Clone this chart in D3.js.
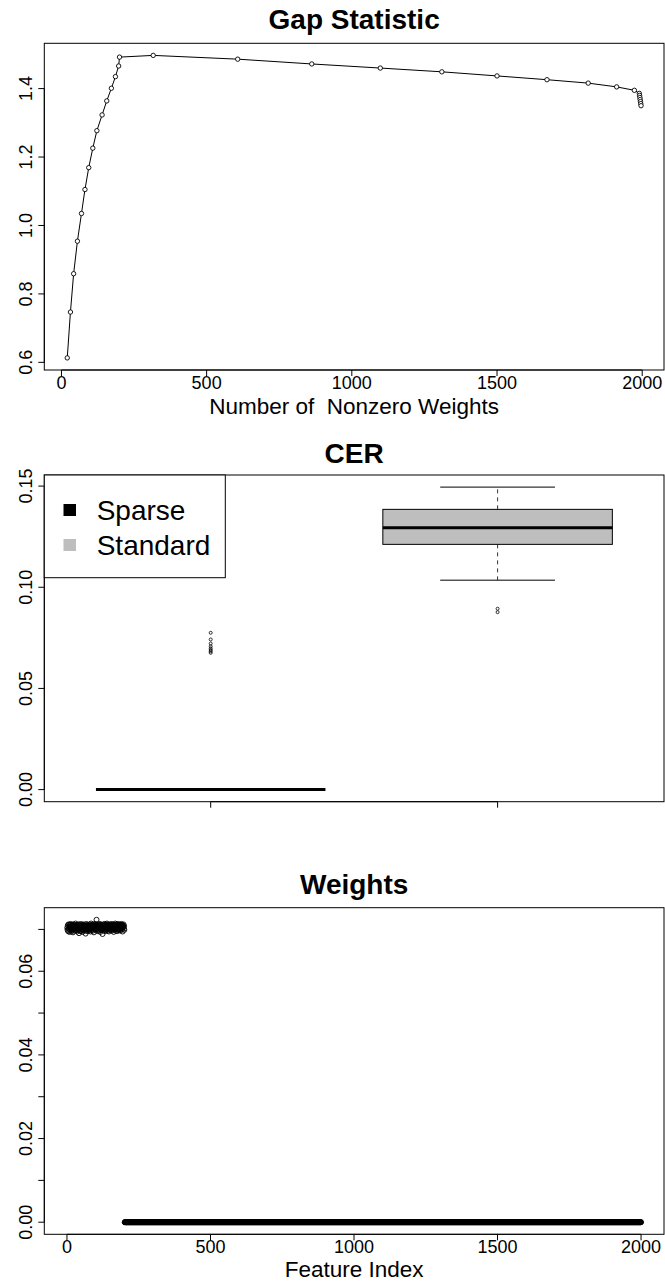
<!DOCTYPE html>
<html>
<head>
<meta charset="utf-8">
<script src="https://cdn.jsdelivr.net/npm/d3@7"></script>
<style>
  html, body { margin: 0; padding: 0; background: #fff; }
  svg { display: block; font-family: "Liberation Sans", Arial, Helvetica, sans-serif; }
</style>
</head>
<body>
<script>
// ---------------- DATA ----------------
// Panel 1: Gap statistic vs number of nonzero weights
const gapNonzero = [20, 31, 42, 55, 69, 81, 94, 108, 122, 140, 156, 172, 186, 197, 200,
  316, 607, 862, 1098, 1310, 1500, 1672, 1814, 1912, 1973,
  1990, 1991, 1992, 1993, 1994, 1995, 1996];
const gapValues = [0.613, 0.747, 0.859, 0.954, 1.035, 1.105, 1.169, 1.226, 1.277, 1.323,
  1.364, 1.401, 1.435, 1.466, 1.492, 1.497, 1.486, 1.472, 1.460, 1.449, 1.437, 1.426,
  1.416, 1.405, 1.395, 1.386, 1.380, 1.374, 1.368, 1.362, 1.356, 1.350];
const gapXTicks = [0, 500, 1000, 1500, 2000];
const gapYTicks = [0.6, 0.8, 1.0, 1.2, 1.4];

// Panel 2: CER boxplots
const cerGroups = ["Sparse", "Standard"];
const cerLowerWhisker = [0, 0.1035];
const cerQ1 = [0, 0.1212];
const cerMedian = [0, 0.1294];
const cerQ3 = [0, 0.1385];
const cerUpperWhisker = [0, 0.1495];
const cerOutliers = [
  [0.0775, 0.0742, 0.0722, 0.0708, 0.0698, 0.0690, 0.0683, 0.0676],
  [0.0894, 0.0877]
];
const cerColors = ["#000000", "#bebebe"];
const cerYTicks = [0.00, 0.05, 0.10, 0.15];

// Panel 3: feature weights (features 1..200 informative, 201..2000 zero)
const weightsInformative = [
  0.0704, 0.0699, 0.0710, 0.0696, 0.0707, 0.0712, 0.0701, 0.0694, 0.0706, 0.0711,
  0.0703, 0.0698, 0.0713, 0.0707, 0.0695, 0.0704, 0.0709, 0.0700, 0.0711, 0.0702,
  0.0693, 0.0706, 0.0712, 0.0701, 0.0708, 0.0697, 0.0710, 0.0704, 0.0699, 0.0714,
  0.0702, 0.0709, 0.0698, 0.0706, 0.0711, 0.0695, 0.0704, 0.0708, 0.0701, 0.0712,
  0.0699, 0.0691, 0.0709, 0.0703, 0.0710, 0.0697, 0.0706, 0.0713, 0.0696, 0.0704,
  0.0708, 0.0701, 0.0711, 0.0694, 0.0706, 0.0702, 0.0712, 0.0699, 0.0709, 0.0704,
  0.0697, 0.0710, 0.0702, 0.0708, 0.0690, 0.0706, 0.0713, 0.0700, 0.0709, 0.0696,
  0.0704, 0.0711, 0.0699, 0.0708, 0.0702, 0.0710, 0.0697, 0.0706, 0.0712, 0.0700,
  0.0709, 0.0695, 0.0704, 0.0714, 0.0702, 0.0708, 0.0699, 0.0711, 0.0706, 0.0697,
  0.0709, 0.0702, 0.0712, 0.0693, 0.0706, 0.0710, 0.0700, 0.0708, 0.0713, 0.0704,
  0.0699, 0.0711, 0.0723, 0.0702, 0.0709, 0.0696, 0.0706, 0.0712, 0.0700, 0.0708,
  0.0704, 0.0697, 0.0710, 0.0702, 0.0713, 0.0694, 0.0708, 0.0700, 0.0711, 0.0704,
  0.0699, 0.0709, 0.0702, 0.0689, 0.0706, 0.0712, 0.0697, 0.0708, 0.0710, 0.0700,
  0.0704, 0.0713, 0.0696, 0.0709, 0.0702, 0.0711, 0.0699, 0.0706, 0.0714, 0.0700,
  0.0708, 0.0697, 0.0710, 0.0704, 0.0712, 0.0695, 0.0706, 0.0702, 0.0709, 0.0699,
  0.0711, 0.0704, 0.0700, 0.0713, 0.0708, 0.0697, 0.0710, 0.0702, 0.0706, 0.0712,
  0.0699, 0.0709, 0.0694, 0.0704, 0.0711, 0.0700, 0.0708, 0.0714, 0.0702, 0.0710,
  0.0697, 0.0706, 0.0712, 0.0704, 0.0696, 0.0709, 0.0700, 0.0713, 0.0708, 0.0702,
  0.0710, 0.0699, 0.0706, 0.0711, 0.0704, 0.0697, 0.0709, 0.0702, 0.0713, 0.0708,
  0.0700, 0.0711, 0.0704, 0.0695, 0.0709, 0.0706, 0.0712, 0.0702, 0.0708, 0.0699
];
// features 201..2000 all read as 0 in the picture
const weightsZeroValue = 0;
const weightsZeroFirstIndex = 201;
const weightsLastIndex = 2000;
const weightsXTicks = [0, 500, 1000, 1500, 2000];
const weightsYTicks = [0.00, 0.01, 0.02, 0.03, 0.04, 0.05, 0.06, 0.07];
const weightsYLabelled = [0.00, 0.02, 0.04, 0.06];

// ---------------- DRAWING ----------------
const W = 665, H = 1282;
const svg = d3.select("body").append("svg").attr("width", W).attr("height", H);
svg.append("rect").attr("width", W).attr("height", H).attr("fill", "#fff");

const TICK_FONT = 18, LAB_FONT = 22.5, TITLE_FONT = 28, TICK_LEN = 6;
const PL = 44.3, PR = 664;

function frame(g, y0, y1) {
  g.append("rect").attr("x", PL).attr("y", y0).attr("width", PR - PL).attr("height", y1 - y0)
    .attr("fill", "none").attr("stroke", "#000").attr("stroke-width", 1);
}
function title(g, text, yBase) {
  g.append("text").attr("x", (PL + PR) / 2).attr("y", yBase).attr("text-anchor", "middle")
    .attr("font-size", TITLE_FONT).attr("font-weight", "bold").text(text);
}
function xAxisR(g, x, ticks, yBottom, labels) {
  g.append("line").attr("x1", x(ticks[0])).attr("x2", x(ticks[ticks.length - 1]))
    .attr("y1", yBottom).attr("y2", yBottom).attr("stroke", "#000");
  ticks.forEach(t => {
    g.append("line").attr("x1", x(t)).attr("x2", x(t)).attr("y1", yBottom).attr("y2", yBottom + TICK_LEN)
      .attr("stroke", "#000");
    if (labels) g.append("text").attr("x", x(t)).attr("y", yBottom + 18.5).attr("text-anchor", "middle")
      .attr("font-size", TICK_FONT).text(labels(t));
  });
}
function yAxisR(g, y, ticks, labelled, fmt) {
  g.append("line").attr("x1", PL).attr("x2", PL).attr("y1", y(ticks[0])).attr("y2", y(ticks[ticks.length - 1]))
    .attr("stroke", "#000");
  ticks.forEach(t => {
    g.append("line").attr("x1", PL).attr("x2", PL - TICK_LEN).attr("y1", y(t)).attr("y2", y(t)).attr("stroke", "#000");
  });
  labelled.forEach(t => {
    g.append("text").attr("transform", `translate(${31.5},${y(t)}) rotate(-90)`)
      .attr("text-anchor", "middle").attr("font-size", TICK_FONT).text(fmt(t));
  });
}

// ---- Panel 1: Gap Statistic ----
{
  const g = svg.append("g");
  const top = 43.3, bottom = 370;
  const xr = d3.extent(gapNonzero), yr = d3.extent(gapValues);
  const dx = (xr[1] - xr[0]) * 0.04, dy = (yr[1] - yr[0]) * 0.04;
  const x = d3.scaleLinear().domain([xr[0] - dx, xr[1] + dx]).range([PL, PR]);
  const y = d3.scaleLinear().domain([yr[0] - dy, yr[1] + dy]).range([bottom, top]);
  frame(g, top, bottom);
  title(g, "Gap Statistic", 29);
  xAxisR(g, x, gapXTicks, bottom, d => String(d));
  yAxisR(g, y, gapYTicks, gapYTicks, d => d3.format(".1f")(d));
  g.append("text").attr("x", (PL + PR) / 2).attr("y", 414).attr("text-anchor", "middle")
    .attr("font-size", LAB_FONT).style("white-space", "pre").text("Number of  Nonzero Weights");
  const pts = gapNonzero.map((v, i) => [v, gapValues[i]]);
  g.append("path").datum(pts)
    .attr("d", d3.line().x(d => x(d[0])).y(d => y(d[1])))
    .attr("fill", "none").attr("stroke", "#000").attr("stroke-width", 1);
  g.selectAll("circle.gp").data(pts).join("circle")
    .attr("cx", d => x(d[0])).attr("cy", d => y(d[1])).attr("r", 2.2)
    .attr("fill", "#fff").attr("stroke", "#000").attr("stroke-width", 0.9);
}

// ---- Panel 2: CER ----
{
  const g = svg.append("g");
  const top = 475, bottom = 801.7;
  const allVals = cerLowerWhisker.concat(cerUpperWhisker, ...cerOutliers);
  const yr = d3.extent(allVals);
  const dy = (yr[1] - yr[0]) * 0.04;
  const x = d3.scaleLinear().domain([0.5 - 0.08, cerGroups.length + 0.5 + 0.08]).range([PL, PR]);
  const y = d3.scaleLinear().domain([yr[0] - dy, yr[1] + dy]).range([bottom, top]);
  frame(g, top, bottom);
  title(g, "CER", 463);
  xAxisR(g, x, cerGroups.map((d, i) => i + 1), bottom, null);
  yAxisR(g, y, cerYTicks, cerYTicks, d => d3.format(".2f")(d));

  cerGroups.forEach((grp, i) => {
    const c = i + 1;
    const hw = 0.4, cw = 0.2;
    g.append("line").attr("x1", x(c)).attr("x2", x(c)).attr("y1", y(cerQ3[i])).attr("y2", y(cerUpperWhisker[i]))
      .attr("stroke", "#000").attr("stroke-width", 0.8).attr("stroke-dasharray", "4,4");
    g.append("line").attr("x1", x(c)).attr("x2", x(c)).attr("y1", y(cerQ1[i])).attr("y2", y(cerLowerWhisker[i]))
      .attr("stroke", "#000").attr("stroke-width", 0.8).attr("stroke-dasharray", "4,4");
    [cerUpperWhisker[i], cerLowerWhisker[i]].forEach(v => {
      g.append("line").attr("x1", x(c - cw)).attr("x2", x(c + cw)).attr("y1", y(v)).attr("y2", y(v))
        .attr("stroke", "#000").attr("stroke-width", 1);
    });
    g.append("rect").attr("x", x(c - hw)).attr("y", y(cerQ3[i]))
      .attr("width", x(c + hw) - x(c - hw)).attr("height", Math.max(0, y(cerQ1[i]) - y(cerQ3[i])))
      .attr("fill", cerColors[i]).attr("stroke", "#000").attr("stroke-width", 1);
    g.append("line").attr("x1", x(c - hw)).attr("x2", x(c + hw)).attr("y1", y(cerMedian[i])).attr("y2", y(cerMedian[i]))
      .attr("stroke", "#000").attr("stroke-width", 3);
    g.selectAll(null).data(cerOutliers[i]).join("circle")
      .attr("cx", x(c)).attr("cy", d => y(d)).attr("r", 1.5)
      .attr("fill", "none").attr("stroke", "#000").attr("stroke-width", 0.8);
  });

  const lg = g.append("g");
  lg.append("rect").attr("x", PL).attr("y", top).attr("width", 225.3 - PL).attr("height", 577.7 - top)
    .attr("fill", "#fff").attr("stroke", "#000").attr("stroke-width", 1);
  cerGroups.forEach((grp, i) => {
    const cy = 510 + i * 35;
    lg.append("rect").attr("x", 63.5).attr("y", cy - 6).attr("width", 12.5).attr("height", 12)
      .attr("fill", cerColors[i]);
    lg.append("text").attr("x", 96.7).attr("y", cy + 9.5).attr("font-size", 28).text(grp);
  });
}

// ---- Panel 3: Weights ----
{
  const g = svg.append("g");
  const top = 907.7, bottom = 1234.3;
  const pts = weightsInformative.map((v, i) => [i + 1, v]);
  for (let k = weightsZeroFirstIndex; k <= weightsLastIndex; k++) pts.push([k, weightsZeroValue]);
  const xr = d3.extent(pts, d => d[0]), yr = d3.extent(pts, d => d[1]);
  const dx = (xr[1] - xr[0]) * 0.04, dy = (yr[1] - yr[0]) * 0.04;
  const x = d3.scaleLinear().domain([xr[0] - dx, xr[1] + dx]).range([PL, PR]);
  const y = d3.scaleLinear().domain([yr[0] - dy, yr[1] + dy]).range([bottom, top]);
  frame(g, top, bottom);
  title(g, "Weights", 894);
  xAxisR(g, x, weightsXTicks, bottom, d => String(d));
  yAxisR(g, y, weightsYTicks, weightsYLabelled, d => d3.format(".2f")(d));
  g.append("text").attr("x", (PL + PR) / 2).attr("y", 1277).attr("text-anchor", "middle")
    .attr("font-size", LAB_FONT).text("Feature Index");
  g.selectAll("circle.wp").data(pts).join("circle")
    .attr("cx", d => x(d[0])).attr("cy", d => y(d[1])).attr("r", 2.5)
    .attr("fill", "none").attr("stroke", "#000").attr("stroke-width", 0.9);
}
</script>
</body>
</html>
